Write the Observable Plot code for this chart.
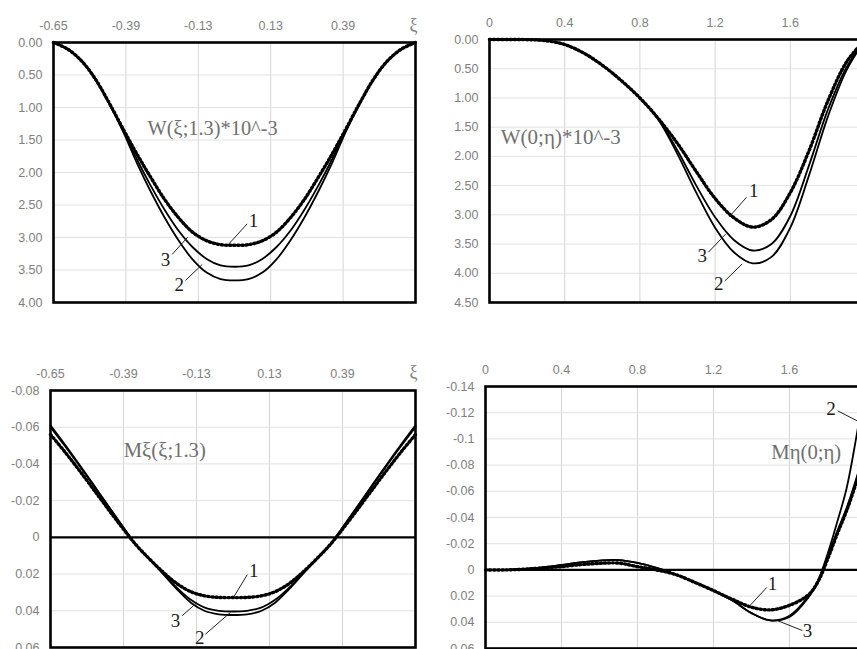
<!DOCTYPE html>
<html><head><meta charset="utf-8">
<script src="https://cdn.jsdelivr.net/npm/d3@7"></script>
<script src="https://cdn.jsdelivr.net/npm/@observablehq/plot@0.6"></script>
<style>
body{margin:0;background:#fff;}
#wrap{position:relative;width:857px;height:649px;overflow:hidden;background:#fff;}
#wrap svg{position:absolute;}
</style></head><body><div id="wrap"></div>
<script>
// ---------- data ----------
const xiTicks = [-0.65, -0.39, -0.13, 0.13, 0.39];
const etaTicks = [0, 0.4, 0.8, 1.2, 1.6, 2];
const wTicksA = [0, 0.5, 1, 1.5, 2, 2.5, 3, 3.5, 4];
const wTicksB = [0, 0.5, 1, 1.5, 2, 2.5, 3, 3.5, 4, 4.5];
const mTicksA = [-0.08, -0.06, -0.04, -0.02, 0, 0.02, 0.04, 0.06];
const mTicksB = [-0.14, -0.12, -0.1, -0.08, -0.06, -0.04, -0.02, 0, 0.02, 0.04, 0.06];

const xi = [-0.65,-0.60,-0.55,-0.50,-0.45,-0.40,-0.35,-0.30,-0.25,-0.20,-0.15,-0.10,-0.05,0,0.05,0.10,0.15,0.20,0.25,0.30,0.35,0.40,0.45,0.50,0.55,0.60,0.65];
const W1_c1 = [0,0.10,0.28,0.56,0.93,1.33,1.72,2.08,2.42,2.70,2.92,3.05,3.11,3.12,3.11,3.05,2.92,2.70,2.42,2.08,1.72,1.33,0.93,0.56,0.28,0.10,0];
const W1_c3 = [0,0.10,0.28,0.56,0.93,1.35,1.80,2.21,2.58,2.90,3.15,3.33,3.43,3.45,3.43,3.33,3.15,2.90,2.58,2.21,1.80,1.35,0.93,0.56,0.28,0.10,0];
const W1_c2 = [0,0.10,0.28,0.56,0.94,1.37,1.86,2.30,2.70,3.05,3.34,3.54,3.64,3.66,3.64,3.54,3.34,3.05,2.70,2.30,1.86,1.37,0.94,0.56,0.28,0.10,0];

const eta = [0,0.1,0.2,0.3,0.4,0.5,0.6,0.7,0.8,0.9,1.0,1.1,1.2,1.3,1.4,1.5,1.6,1.7,1.8,1.9,2.0];
const W2_c1 = [0,0,0.003,0.02,0.086,0.23,0.44,0.70,1.00,1.36,1.78,2.26,2.72,3.05,3.21,3.08,2.62,1.90,1.05,0.38,0];
const W2_c3 = [0,0,0.003,0.02,0.086,0.23,0.44,0.70,1.00,1.37,1.90,2.50,3.04,3.43,3.61,3.50,3.02,2.15,1.20,0.47,0];
const W2_c2 = [0,0,0.003,0.02,0.086,0.23,0.44,0.70,1.00,1.38,1.96,2.62,3.22,3.64,3.83,3.72,3.22,2.32,1.32,0.52,0];

const M1_c1 = [-0.056,-0.0468,-0.0370,-0.0268,-0.0165,-0.0064,0.0033,0.0114,0.0188,0.0252,0.0296,0.0319,0.0327,0.0328,0.0327,0.0319,0.0296,0.0252,0.0188,0.0114,0.0033,-0.0064,-0.0165,-0.0268,-0.0370,-0.0468,-0.056];
const M1_c3 = [-0.060,-0.0500,-0.0396,-0.0290,-0.0182,-0.0074,0.0032,0.0114,0.0195,0.0274,0.0340,0.0383,0.0400,0.0404,0.0400,0.0383,0.0340,0.0274,0.0195,0.0114,0.0032,-0.0074,-0.0182,-0.0290,-0.0396,-0.0500,-0.060];
const M1_c2 = [-0.061,-0.0508,-0.0402,-0.0294,-0.0184,-0.0075,0.0032,0.0115,0.0198,0.0282,0.0356,0.0401,0.0419,0.0423,0.0419,0.0401,0.0356,0.0282,0.0198,0.0115,0.0032,-0.0075,-0.0184,-0.0294,-0.0402,-0.0508,-0.061];

const eta4 = [0,0.1,0.2,0.3,0.4,0.5,0.6,0.7,0.8,0.9,1.0,1.1,1.2,1.3,1.4,1.5,1.6,1.7,1.75,1.8,1.85,1.9,1.95,2.0];
const M2_c1 = [0,0,-0.0005,-0.0015,-0.0025,-0.004,-0.005,-0.0052,-0.0025,0,0.0035,0.0094,0.0158,0.0225,0.0285,0.0305,0.027,0.019,0.009,-0.008,-0.027,-0.045,-0.066,-0.09];
const M2_c3 = [0,0,-0.0008,-0.002,-0.0038,-0.0058,-0.0071,-0.0075,-0.0053,-0.0015,0.0035,0.0094,0.0158,0.0234,0.033,0.0386,0.036,0.021,0.009,-0.010,-0.029,-0.047,-0.069,-0.093];
const M2_c2 = [0,0,-0.0008,-0.002,-0.0038,-0.0058,-0.0071,-0.0075,-0.0053,-0.0015,0.0035,0.0094,0.0158,0.0234,0.033,0.0386,0.035,0.020,0.008,-0.012,-0.036,-0.062,-0.100,-0.145];

// annotation placements (data units)
const ann1 = {title: {x: -0.312, y: 1.32, t: "W(ξ;1.3)*10^-3", len: 130},
  labels: [{t: "1", x: 0.068, y: 2.74}, {t: "3", x: -0.248, y: 3.34}, {t: "2", x: -0.198, y: 3.73}],
  leaders: [{x1: -0.0205, y1: 3.10, x2: 0.0455, y2: 2.79}, {x1: -0.224, y1: 3.26, x2: -0.168, y2: 2.995}, {x1: -0.176, y1: 3.66, x2: -0.116, y2: 3.415}],
  axisName: {x: 0.643, y: -0.26, t: "ξ"}};
const ann2 = {title: {x: 0.06, y: 1.67, t: "W(0;η)*10^-3", len: 120},
  labels: [{t: "1", x: 1.406, y: 2.585}, {t: "3", x: 1.132, y: 3.70}, {t: "2", x: 1.220, y: 4.18}],
  leaders: [{x1: 1.274, y1: 3.04, x2: 1.367, y2: 2.70}, {x1: 1.164, y1: 3.64, x2: 1.256, y2: 3.33}, {x1: 1.252, y1: 4.13, x2: 1.344, y2: 3.84}]};
const ann3 = {title: {x: -0.389, y: -0.0473, t: "Mξ(ξ;1.3)", len: 82},
  labels: [{t: "1", x: 0.074, y: 0.0182}, {t: "3", x: -0.205, y: 0.0454}, {t: "2", x: -0.118, y: 0.0546}],
  leaders: [{x1: 0.003, y1: 0.0324, x2: 0.051, y2: 0.0203}, {x1: -0.181, y1: 0.0427, x2: -0.128, y2: 0.0355}, {x1: -0.098, y1: 0.0527, x2: -0.009, y2: 0.0409}],
  axisName: {x: 0.643, y: -0.0899, t: "ξ"}};
const ann4 = {title: {x: 1.504, y: -0.0896, t: "Mη(0;η)", len: 70},
  labels: [{t: "1", x: 1.511, y: 0.0107}, {t: "3", x: 1.695, y: 0.0463}, {t: "2", x: 1.819, y: -0.1227}],
  leaders: [{x1: 1.39, y1: 0.0275, x2: 1.481, y2: 0.0133}, {x1: 1.538, y1: 0.0388, x2: 1.668, y2: 0.0463}, {x1: 1.854, y1: -0.1214, x2: 1.956, y2: -0.1138}]};

// ---------- drawing ----------
const fmt2 = d => d.toFixed(2);
const fmtG = d => String(+d.toFixed(2));
const fmtE = d => String(+d.toFixed(1));
const rows = (xs, ys) => xs.map((x, i) => ({x, y: ys[i]}));

function panel(o) {
  const lineOpts = {x: "x", y: "y", curve: "catmull-rom", stroke: "#000"};
  const axisText = {fill: "#808080", fontSize: 12.5, fontFamily: "Liberation Sans, Arial, sans-serif"};
  const marks = [
    Plot.gridX(o.xGrid, {stroke: "#d4d4d4", strokeOpacity: 1, strokeWidth: 1}),
    Plot.gridY(o.yTicks, {stroke: "#e2e2e2", strokeOpacity: 1, strokeWidth: 1}),
    Plot.axisX({anchor: "top", ticks: o.xTicks, tickSize: 0, tickPadding: 13, tickFormat: o.xFmt, label: null, ...axisText}),
    Plot.axisY({anchor: "left", ticks: o.yTicks, tickSize: 0, tickPadding: 11, tickFormat: o.yFmt, label: null, ...axisText}),
  ];
  if (o.zero) marks.push(Plot.ruleY([0], {stroke: "#000", strokeWidth: 2.2}));
  // curve 1: solid + dotted overlay
  marks.push(Plot.line(rows(o.x, o.c1), {...lineOpts, strokeWidth: 1.4}));
  marks.push(Plot.line(rows(o.x, o.c1), {...lineOpts, strokeWidth: 3.4, strokeDasharray: "1.3,2.8"}));
  marks.push(Plot.line(rows(o.x, o.c3), {...lineOpts, strokeWidth: 1.8}));
  marks.push(Plot.line(rows(o.x, o.c2), {...lineOpts, strokeWidth: 1.8}));
  marks.push(Plot.frame({stroke: "#000", strokeWidth: 2.6}));
  const a = o.ann;
  marks.push(Plot.link(a.leaders, {x1: "x1", y1: "y1", x2: "x2", y2: "y2", stroke: "#222", strokeWidth: 1}));
  marks.push(Plot.text(a.labels, {x: "x", y: "y", text: "t", fontFamily: "Liberation Serif", fontSize: 19, fill: "#1a1a1a"}));
  marks.push(Plot.text([a.title], {x: "x", y: "y", text: "t", textAnchor: "start", fontFamily: "Liberation Serif", fontSize: 20, fill: "#707070"}));
  if (a.axisName) marks.push(Plot.text([a.axisName], {x: "x", y: "y", text: "t", fontFamily: "Liberation Serif", fontSize: 18, fill: "#808080"}));
  const svg = Plot.plot({
    width: o.width, height: o.height,
    marginLeft: o.m[3], marginRight: o.m[1], marginTop: o.m[0], marginBottom: o.m[2],
    x: {domain: o.xDomain},
    y: {domain: o.yDomain, reverse: true},
    style: {background: "transparent", fontFamily: "Liberation Sans, Arial, sans-serif", fontSize: "12.5px", overflow: "visible"},
    marks
  });
  svg.style.left = o.left + "px";
  svg.style.top = o.top + "px";
  svg.style.maxWidth = "none";
  d3.select(svg).selectAll("text")
    .filter(function() { return this.textContent === a.title.t; })
    .attr("textLength", a.title.len).attr("lengthAdjust", "spacingAndGlyphs");
  document.getElementById("wrap").appendChild(svg);
}

panel({left: 0, top: 0, width: 430, height: 320, m: [42, 15, 18, 53],
  xDomain: [-0.65, 0.65], yDomain: [0, 4], xTicks: xiTicks, xGrid: xiTicks, yTicks: wTicksA,
  xFmt: fmt2, yFmt: fmt2, x: xi, c1: W1_c1, c2: W1_c2, c3: W1_c3, ann: ann1});
panel({left: 427, top: 0, width: 460, height: 320, m: [39, 22, 18, 62],
  xDomain: [0, 2], yDomain: [0, 4.5], xTicks: etaTicks, xGrid: etaTicks, yTicks: wTicksB,
  xFmt: fmtE, yFmt: fmt2, x: eta, c1: W2_c1, c2: W2_c2, c3: W2_c3, ann: ann2});
panel({left: 0, top: 320, width: 430, height: 340, m: [70, 15, 13, 50],
  xDomain: [-0.65, 0.65], yDomain: [-0.08, 0.06], xTicks: xiTicks, xGrid: xiTicks, yTicks: mTicksA,
  xFmt: fmt2, yFmt: fmtG, x: xi, c1: M1_c1, c2: M1_c2, c3: M1_c3, ann: ann3, zero: true});
panel({left: 427, top: 320, width: 460, height: 340, m: [66, 22, 12, 58],
  xDomain: [0, 2], yDomain: [-0.14, 0.06], xTicks: etaTicks, xGrid: etaTicks, yTicks: mTicksB,
  xFmt: fmtE, yFmt: fmtG, x: eta4, c1: M2_c1, c2: M2_c2, c3: M2_c3, ann: ann4, zero: true});
</script></body></html>
